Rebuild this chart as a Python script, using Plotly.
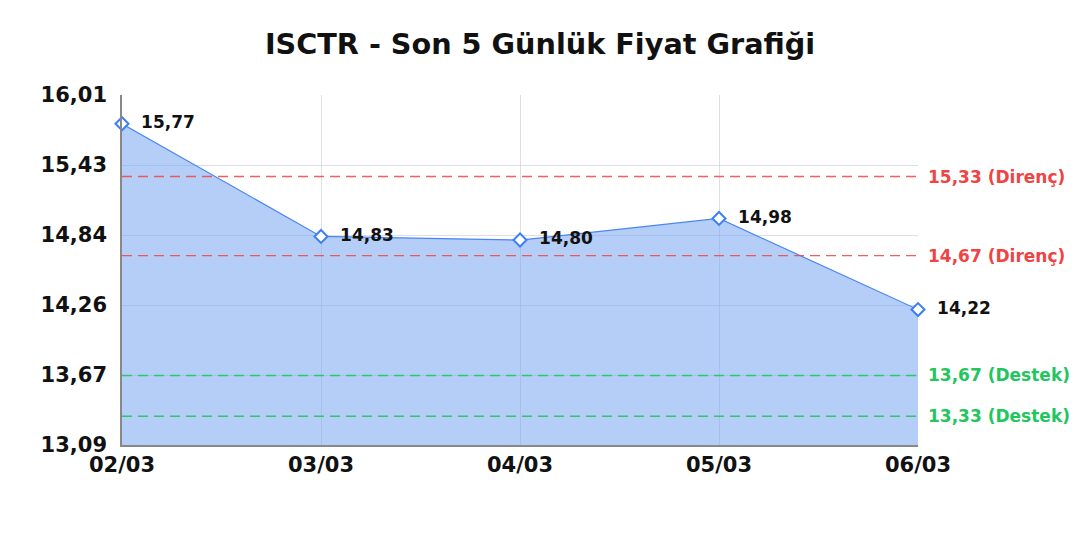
import plotly.graph_objects as go

days = ['02/03', '03/03', '04/03', '05/03', '06/03']
prices = [15.77, 14.83, 14.80, 14.98, 14.22]
price_labels = ['15,77', '14,83', '14,80', '14,98', '14,22']

resistance = [15.33, 14.67]
resistance_labels = ['15,33 (Direnç)', '14,67 (Direnç)']
support = [13.67, 13.33]
support_labels = ['13,67 (Destek)', '13,33 (Destek)']

y_ticks = [13.09, 13.674, 14.258, 14.842, 15.426, 16.01]
y_tick_labels = ['13,09', '13,67', '14,26', '14,84', '15,43', '16,01']

font = 'DejaVu Sans'
red = 'rgba(239,68,68,0.85)'
green = 'rgba(34,197,94,0.9)'

trace = go.Scatter(
    x=days,
    y=prices,
    mode='lines+markers+text',
    text=['  ' + t for t in price_labels],
    textposition='middle right',
    textfont=dict(family=font, size=17, color='#111111', weight='bold'),
    line=dict(color='#4a86f0', width=1.2),
    marker=dict(symbol='diamond', size=10, color='white',
                line=dict(width=2, color='#3b7ff5')),
    fill='tozeroy',
    fillcolor='rgba(120,165,240,0.55)',
    cliponaxis=False,
    showlegend=False,
)

fig = go.Figure(data=[trace])

shapes = []
annotations = []
for val, lab in zip(resistance, resistance_labels):
    shapes.append(dict(type='line', xref='paper', x0=0, x1=1, yref='y', y0=val, y1=val,
                       line=dict(color=red, width=1.3, dash='10px,6px')))
    annotations.append(dict(xref='paper', x=1.01, yref='y', y=val, text=lab, showarrow=False,
                            xanchor='left', yanchor='middle',
                            font=dict(family=font, size=17, color='#ef4444', weight='bold')))
for val, lab in zip(support, support_labels):
    shapes.append(dict(type='line', xref='paper', x0=0, x1=1, yref='y', y0=val, y1=val,
                       line=dict(color=green, width=1.3, dash='10px,6px')))
    annotations.append(dict(xref='paper', x=1.01, yref='y', y=val, text=lab, showarrow=False,
                            xanchor='left', yanchor='middle',
                            font=dict(family=font, size=17, color='#22c55e', weight='bold')))

fig.update_layout(
    width=1080,
    height=540,
    title=dict(text='<b>ISCTR - Son 5 Günlük Fiyat Grafiği</b>', x=532 / 1080, xanchor='center',
               y=0.933, yanchor='middle', font=dict(family=font, size=28.7, color='#111111')),
    margin=dict(l=114, r=170, t=87, b=103),
    paper_bgcolor='white',
    plot_bgcolor='white',
    font=dict(family=font),
    shapes=shapes,
    annotations=annotations,
    xaxis=dict(
        type='category',
        range=[0, 4],
        showgrid=True,
        gridcolor='rgba(200,200,210,0.6)',
        showline=True,
        linecolor='#888888',
        linewidth=1.5,
        ticks='',
        tickfont=dict(family=font, size=21, color='#111111', weight='bold'),
        zeroline=False,
    ),
    yaxis=dict(
        range=[13.09, 16.01],
        tickvals=y_ticks,
        ticktext=y_tick_labels,
        showgrid=True,
        gridcolor='rgba(200,200,210,0.6)',
        showline=True,
        linecolor='#888888',
        linewidth=1.5,
        ticks='',
        ticklabelstandoff=9,
        tickfont=dict(family=font, size=21, color='#111111', weight='bold'),
        zeroline=False,
    ),
)

fig.write_html('out.html')
